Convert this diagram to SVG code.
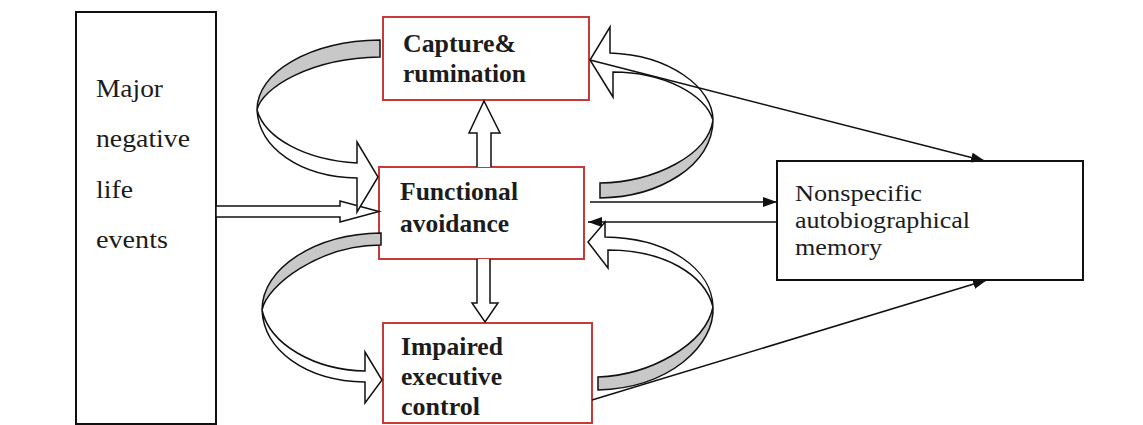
<svg xmlns="http://www.w3.org/2000/svg" width="1143" height="425" viewBox="0 0 1143 425">
<style>
.blk{fill:#fff;stroke:#111;stroke-width:2}
.red{fill:#fff;stroke:#c83a3a;stroke-width:2}
.t{font-family:"Liberation Serif","Times New Roman",serif;fill:#1c1c1c}
.r25{font-size:26px}
.r23{font-size:24px}
.b{font-size:25px;font-weight:bold}
.band{fill:#fff;stroke:#111;stroke-width:1.5;stroke-linejoin:miter}
.gray{fill:#c8c8c8;stroke:#111;stroke-width:1.5}
.ln{fill:none;stroke:#111;stroke-width:1.6}
</style>
<defs>
<marker id="ah" viewBox="0 0 14 10" refX="14" refY="5" markerWidth="14" markerHeight="10" markerUnits="userSpaceOnUse" orient="auto">
<path d="M0,0 L14,5 L0,10 Z" fill="#111"/>
</marker>
</defs>
<rect width="1143" height="425" fill="#fff"/>

<g id="node-life-events">
<rect class="blk" x="76" y="12" width="140" height="412"/>
<text class="t r25" x="96" y="97" textLength="67" lengthAdjust="spacingAndGlyphs">Major</text>
<text class="t r25" x="96" y="147" textLength="94" lengthAdjust="spacingAndGlyphs">negative</text>
<text class="t r25" x="96" y="198" textLength="37" lengthAdjust="spacingAndGlyphs">life</text>
<text class="t r25" x="96" y="248" textLength="72" lengthAdjust="spacingAndGlyphs">events</text>
</g>

<g id="node-capture">
<rect class="red" x="383" y="17" width="206" height="83"/>
<text class="t b" x="403" y="52" textLength="113" lengthAdjust="spacingAndGlyphs">Capture&amp;</text>
<text class="t b" x="403" y="82" textLength="123" lengthAdjust="spacingAndGlyphs">rumination</text>
</g>

<g id="node-functional">
<rect class="red" x="379" y="167" width="205" height="92"/>
<text class="t b" x="400" y="200" textLength="118" lengthAdjust="spacingAndGlyphs">Functional</text>
<text class="t b" x="400" y="232" textLength="109" lengthAdjust="spacingAndGlyphs">avoidance</text>
</g>

<g id="node-impaired">
<rect class="red" x="383" y="323" width="209" height="100"/>
<text class="t b" x="401" y="355" textLength="102" lengthAdjust="spacingAndGlyphs">Impaired</text>
<text class="t b" x="401" y="385" textLength="101" lengthAdjust="spacingAndGlyphs">executive</text>
<text class="t b" x="401" y="415" textLength="79" lengthAdjust="spacingAndGlyphs">control</text>
</g>

<g id="node-nonspecific">
<rect class="blk" x="777" y="161" width="306" height="119"/>
<text class="t r23" x="795" y="201" textLength="127" lengthAdjust="spacingAndGlyphs">Nonspecific</text>
<text class="t r23" x="795" y="228" textLength="175" lengthAdjust="spacingAndGlyphs">autobiographical</text>
<text class="t r23" x="795" y="255" textLength="87" lengthAdjust="spacingAndGlyphs">memory</text>
</g>

<g id="connectors">
<path class="band" d="M216,206 L340,206 L340,201 L379,211.5 L340,222 L340,217 L216,217 Z"/>
<path class="band" d="M477,167 L477,133 L469,133 L484,101 L500,133 L491,133 L491,167"/>
<path class="band" d="M477,259 L477,303 L472,303 L485,322 L498,303 L490,303 L490,259"/>

<path class="gray" d="M380,40 C310,41 257,72 257,110 C262,88 310,58 380,57 Z"/>
<path class="band" d="M257,110 C259,148 300,177 357,178 L357,212 L378,177 L357,142 L357,163 C305,160 265,138 257,110 Z"/>

<path class="gray" d="M381,233 C315,234 262,268 262,310 C267,285 320,245 381,245 Z"/>
<path class="band" d="M262,310 C264,350 305,381 365,382 L365,403 L382,380 L365,352 L365,371 C315,370 270,345 262,310 Z"/>

<path class="gray" d="M713,120 C713,165 660,197 600,198 L600,183 C655,182 708,155 713,120 Z"/>
<path class="band" d="M713,120 C713,88 670,55 610,53 L610,27 L590,60 L613,97 L613,72 C665,72 705,95 713,120 Z"/>

<path class="gray" d="M713,307 C715,345 670,388 598,390 L598,377 C650,375 705,345 713,307 Z"/>
<path class="band" d="M713,307 C712,270 670,238 605,237 L605,222 L588,242 L608,268 L608,250 C665,250 705,275 713,307 Z"/>

<line class="ln" x1="590" y1="60" x2="985" y2="161" marker-end="url(#ah)"/>
<line class="ln" x1="590" y1="202" x2="777" y2="202" stroke-width="2" marker-end="url(#ah)"/>
<line class="ln" x1="777" y1="222" x2="588" y2="222" stroke-width="1.2" marker-end="url(#ah)"/>
<line class="ln" x1="592" y1="400" x2="987" y2="280" marker-end="url(#ah)"/>
</g>
</svg>
